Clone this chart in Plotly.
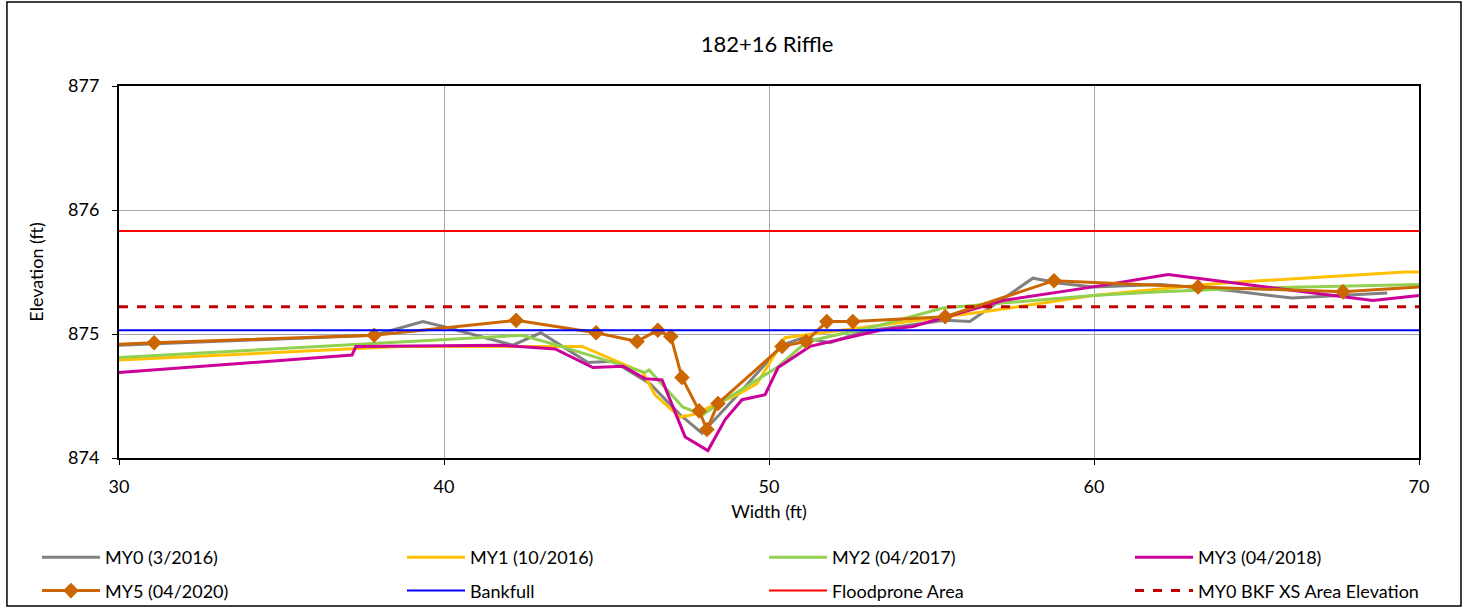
import plotly.graph_objects as go

# survey data, width (ft) vs elevation (ft)
my0_x = [30.0, 37.85, 39.35, 39.97, 42.12, 42.98, 44.43, 45.2, 46.34, 47.26, 47.94, 49.11,
         50.4, 51.05, 51.88, 52.89, 55.42, 56.18, 58.12, 58.95, 59.97, 62.03, 64.18, 66.09, 69.02]
my0_y = [874.91, 874.99, 875.10, 875.06, 874.91, 875.01, 874.77, 874.78, 874.60, 874.35, 874.20, 874.53,
         874.91, 874.97, 874.93, 875.02, 875.11, 875.10, 875.45, 875.41, 875.38, 875.40, 875.35, 875.29, 875.33]

my1_x = [30.0, 38.65, 44.25, 45.2, 46.12, 46.49, 47.26, 47.66, 49.02, 49.63, 50.49, 51.05,
         53.42, 56.89, 59.97, 63.88, 69.57, 70.3]
my1_y = [874.79, 874.90, 874.90, 874.79, 874.69, 874.51, 874.33, 874.35, 874.51, 874.60, 874.97, 874.99,
         875.07, 875.19, 875.31, 875.41, 875.50, 875.50]

my2_x = [30.0, 42.4, 43.48, 45.2, 46.18, 46.31, 47.35, 47.97, 48.4, 50.25, 51.17, 53.42,
         55.35, 59.97, 62.03, 64.89, 70.0]
my2_y = [874.81, 874.99, 874.91, 874.77, 874.69, 874.71, 874.41, 874.35, 874.43, 874.73, 874.94, 875.07,
         875.21, 875.31, 875.34, 875.37, 875.40]

my3_x = [30.0, 37.17, 37.29, 41.72, 43.42, 44.58, 45.51, 46.18, 46.71, 47.42, 48.12, 48.65,
         49.17, 49.88, 50.28, 51.26, 53.42, 54.43, 57.2, 59.97, 62.28, 68.58, 70.0]
my3_y = [874.69, 874.83, 874.90, 874.91, 874.88, 874.73, 874.74, 874.64, 874.63, 874.17, 874.06, 874.31,
         874.47, 874.51, 874.73, 874.90, 875.03, 875.06, 875.27, 875.38, 875.48, 875.27, 875.31]

my5_x = [29.4, 31.08, 37.85, 42.22, 44.68, 45.94, 46.58, 46.98, 47.32, 47.85, 48.09, 48.43,
         50.4, 51.14, 51.78, 52.58, 55.42, 58.77, 63.2, 67.66, 70.6]
my5_y = [874.91, 874.93, 874.99, 875.11, 875.01, 874.94, 875.03, 874.98, 874.65, 874.38, 874.23, 874.44,
         874.90, 874.94, 875.10, 875.10, 875.14, 875.43, 875.38, 875.34, 875.39]

ref_x = [30, 70]
bankfull = 875.03
floodprone = 875.83
my0_bkf = 875.22

fig = go.Figure()
# legend columns: legend (MY0, MY5), legend2 (MY1, Bankfull), legend3 (MY2, Floodprone), legend4 (MY3, MY0 BKF)
fig.add_trace(go.Scatter(x=my0_x, y=my0_y, mode='lines', name='MY0 (3/2016)', legend='legend',
                         legendgroup='a', line=dict(color='#808080', width=3)))
fig.add_trace(go.Scatter(x=my1_x, y=my1_y, mode='lines', name='MY1 (10/2016)', legend='legend2',
                         legendgroup='b', line=dict(color='#FFC000', width=3)))
fig.add_trace(go.Scatter(x=my2_x, y=my2_y, mode='lines', name='MY2 (04/2017)', legend='legend3',
                         legendgroup='c', line=dict(color='#92D050', width=3)))
fig.add_trace(go.Scatter(x=my3_x, y=my3_y, mode='lines', name='MY3 (04/2018)', legend='legend4',
                         legendgroup='d', line=dict(color='#CC0099', width=3)))
fig.add_trace(go.Scatter(x=my5_x, y=my5_y, mode='lines+markers', name='MY5 (04/2020)', legend='legend',
                         legendgroup='e', line=dict(color='#CC6600', width=3),
                         marker=dict(symbol='diamond', size=12, color='#CC6600')))
fig.add_trace(go.Scatter(x=ref_x, y=[bankfull] * 2, mode='lines', name='Bankfull', legend='legend2',
                         legendgroup='f', line=dict(color='#0000FF', width=2)))
fig.add_trace(go.Scatter(x=ref_x, y=[floodprone] * 2, mode='lines', name='Floodprone Area', legend='legend3',
                         legendgroup='g', line=dict(color='#FF0000', width=2)))
fig.add_trace(go.Scatter(x=ref_x, y=[my0_bkf] * 2, mode='lines', name='MY0 BKF XS Area Elevation',
                         legend='legend4', legendgroup='h',
                         line=dict(color='#C00000', width=3, dash='dash')))

axis_style = dict(showline=True, linecolor='black', linewidth=2, mirror=True,
                  showgrid=True, gridcolor='#A6A6A6', gridwidth=1, zeroline=False,
                  ticks='outside', ticklen=5, tickcolor='black',
                  tickfont=dict(size=18, color='black'))

fig.update_xaxes(range=[30, 70], dtick=10, ticklabelstandoff=6,
                 title=dict(text='Width (ft)', font=dict(size=18), standoff=10), **axis_style)
fig.update_yaxes(range=[874, 877], dtick=1, ticksuffix='\u2002',
                 title=dict(text='Elevation (ft)', font=dict(size=18), standoff=20), **axis_style)

# legends placed in plot-area (paper) units: plot spans x 119..1419 px, y 86..458 px
leg = dict(orientation='v', xref='paper', yref='paper', y=-0.2177,
           xanchor='left', yanchor='top', itemwidth=58, font=dict(size=18),
           tracegroupgap=7, bgcolor='rgba(0,0,0,0)')
fig.update_layout(
    width=1467, height=609,
    margin=dict(l=119, r=48, t=86, b=151, autoexpand=False),
    plot_bgcolor='white', paper_bgcolor='white',
    font=dict(family='Lato, Open Sans, sans-serif', color='black'),
    title=dict(text='182+16 Riffle', x=0.5228, xanchor='center', y=0.928, yanchor='middle',
               font=dict(size=22, color='black')),
    legend=dict(leg, x=-0.0631),
    legend2=dict(leg, x=0.2177),
    legend3=dict(leg, x=0.4962),
    legend4=dict(leg, x=0.7777),
    showlegend=True,
)

# outer chart border
fig.add_shape(type='rect', xref='paper', yref='paper',
              x0=-0.0862, x1=1.0323, y0=-0.3978, y1=1.2258,
              line=dict(color='black', width=1.5), fillcolor='rgba(0,0,0,0)')

fig.write_html("out.html", config={'displayModeBar': False},
               post_script="document.body.style.margin = '0';")
